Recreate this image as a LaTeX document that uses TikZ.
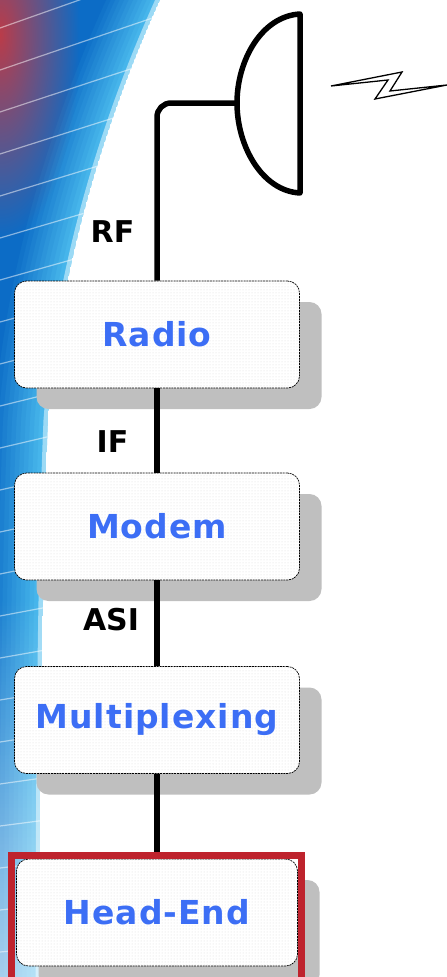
\documentclass[tikz,border=0pt]{standalone}
\usepackage{fontspec}
\usepackage{tikz}
\usetikzlibrary{fadings,patterns,shadows}
\newfontfamily\diagfont{DejaVu Sans}
\newfontfamily\stagefont{DejaVu Sans}[LetterSpace=3]
\definecolor{bgdeep}{RGB}{12,108,198}
\definecolor{bgedge}{RGB}{75,188,238}
\definecolor{bgred}{RGB}{205,55,60}
\definecolor{stagetext}{RGB}{60,110,245}
\definecolor{markred}{RGB}{190,35,45}
\tikzfading[name=cornerfade, inner color=transparent!0, outer color=transparent!100]

\begin{document}
\begin{tikzpicture}[
  x=1pt, y=-1pt,
  edgepath/.style={insert path={-- (160,0) .. controls (110,110) and (60,260) .. (48,420)
    .. controls (42,560) and (40,800) .. (40,977)}},
  stage/.style={draw, line width=0.7pt, dash pattern=on 2pt off 0.8pt, rounded corners=12pt,
    minimum width=285pt, minimum height=107pt, inner sep=0pt,
    general shadow={fill=black!25, shadow xshift=22pt, shadow yshift=-21pt},
    preaction={fill=white}, pattern=dots, pattern color=black!14,
    font=\stagefont\bfseries\fontsize{33}{40}\selectfont, text=stagetext},
  sig/.style={font=\diagfont\bfseries\fontsize{30}{36}\selectfont},
  link/.style={line width=5.5pt},
  hilite/.style={draw=markred, line width=7pt}
]
\useasboundingbox (0,0) rectangle (447,977);

% swoosh along the left edge
\begin{scope}
  \clip (0,0) [edgepath] -- (0,977) -- cycle;
  \foreach \i [evaluate=\i as \mix using \i*100/12] in {0,...,12}
    \fill[bgdeep!\mix!bgedge, xshift=-\i*4.5] (-300,0) [edgepath] -- (-300,977) -- cycle;
  \fill[bgred, fill opacity=0.9, path fading=cornerfade] (-80,-170) rectangle (80,240);
  \foreach \k [evaluate=\k as \ya using 28+42*\k, evaluate=\k as \yb using 28+42*\k-60+2*\k] in {0,...,22}
    \draw[white, opacity=0.5, line width=1.2pt] (0,\ya) -- (170,\yb);
  \fill[white, fill opacity=0.6, path fading=north] (0,600) rectangle (60,977);
  \draw[white, opacity=0.45, line width=9pt] (160,0) [edgepath];
\end{scope}

% dish and radio link
\draw[link, line join=round] (300,14) .. controls (262,16) and (237,60) .. (237,103)
  .. controls (237,146) and (262,191) .. (300,193) -- cycle;
\coordinate (feedpt) at (237,103);
\draw[line width=1.3pt, fill=white] (331,86) -- (402,72) -- (390,91) -- (447,85)
  -- (375,99) -- (388,80) -- cycle;

\node[stage] (radio) at (157,334.5) {Radio};
\node[stage] (modem) at (157,526.5) {Modem};
\node[stage] (mux) at (157,720) {Multiplexing};
\node[stage, minimum width=281pt] (headend) at (157,912.5) {Head-End};

\draw[link, rounded corners=14pt] (radio.north) |- (feedpt);
\draw[link] (radio) -- (modem);
\draw[link] (modem) -- (mux);
\draw[link] (mux) -- (headend);

\node[sig] (rf) at (112.5,232) {RF};
\node[sig] (iflbl) at (112.5,441.5) {IF};
\node[sig] (asi) at (111,620) {ASI};

\draw[hilite] (11.5,855.5) rectangle (301.5,985);
\end{tikzpicture}
\end{document}
